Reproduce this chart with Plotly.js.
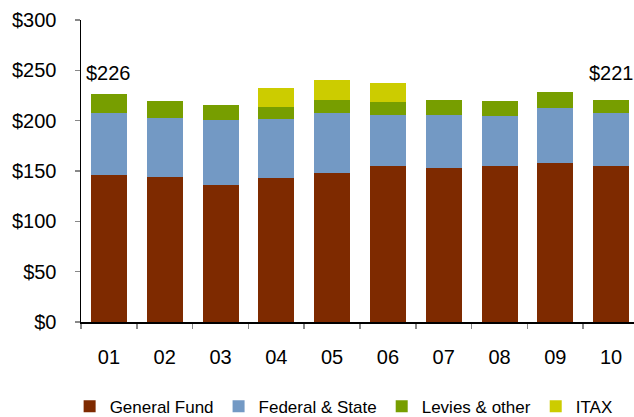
<!DOCTYPE html>
<html>
<head>
<meta charset="utf-8">
<script src="https://cdn.plot.ly/plotly-3.0.1.min.js"></script>
<style>html,body{margin:0;padding:0;background:#fff;}#chart{width:634px;height:417px;}</style>
</head>
<body>
<div id="chart"></div>
<script>
const years = ["01","02","03","04","05","06","07","08","09","10"];
const generalFund = [146,144,136,143,148,155,153,155,158,155];
const federalState = [62,59,65,59,60,51,53,50,55,53];
const leviesOther = [18,17,15,12,13,13,15,15,15,13];
const itax = [0,0,0,18,19,18,0,0,0,0];
const labeledYears = ["01","10"];

const seriesNames = ["General Fund","Federal & State","Levies & other","ITAX"];
const seriesData = [generalFund, federalState, leviesOther, itax];
const seriesColors = ["#7e2a00","#7399c4","#779e00","#cccc00"];

const idx = years.map((_, k) => k);

const traces = seriesData.map((vals, i) => ({
  type: "bar",
  name: seriesNames[i],
  x: idx,
  y: vals,
  marker: {color: seriesColors[i], line: {width: 0}},
  hoverinfo: "y+name"
}));

const totals = years.map((_, k) => seriesData.reduce((s, arr) => s + arr[k], 0));
const annotations = labeledYears.map(yr => {
  const k = years.indexOf(yr);
  return {
    x: k, y: 247, xref: "x", yref: "y",
    text: "$" + totals[k],
    showarrow: false, yanchor: "middle", xanchor: "center",
    font: {family: "Liberation Sans, Arial, sans-serif", size: 20, color: "#000"}
  };
});

const layout = {
  width: 634, height: 417,
  margin: {l: 81, r: 0, t: 20, b: 95},
  barmode: "stack",
  bargap: 0.355,
  paper_bgcolor: "#fff",
  plot_bgcolor: "#fff",
  font: {family: "Liberation Sans, Arial, sans-serif", size: 20, color: "#000"},
  xaxis: {
    type: "linear",
    range: [-0.5, 9.41],
    tickmode: "array", tickvals: idx, ticktext: years,
    showline: true, linecolor: "#000", linewidth: 1.5,
    ticks: "", ticklabelstandoff: 16,
    showgrid: false, zeroline: false,
    tickfont: {size: 20, color: "#000"},
    minor: {tickmode: "array", tickvals: idx.map(k => k - 0.5), ticks: "outside", ticklen: 5, tickcolor: "#888", tickwidth: 1.5, showgrid: false}
  },
  yaxis: {
    range: [0, 300], dtick: 50, tickprefix: "$",
    showline: true, linecolor: "#000", linewidth: 1.5,
    ticks: "outside", ticklen: 5, tickcolor: "#888", tickwidth: 1.5,
    ticklabelstandoff: 14,
    showgrid: false, zeroline: false,
    tickfont: {size: 20, color: "#000"}
  },
  legend: {
    orientation: "h", xref: "container", yref: "container",
    x: 0.542, xanchor: "center", y: 0.025, yanchor: "middle",
    font: {size: 17, color: "#000"}, traceorder: "normal",
    itemclick: false, bgcolor: "rgba(0,0,0,0)", tracegroupgap: 0
  },
  showlegend: true,
  annotations: annotations
};

Plotly.newPlot("chart", traces, layout, {displayModeBar: false, staticPlot: true});
</script>
</body>
</html>
